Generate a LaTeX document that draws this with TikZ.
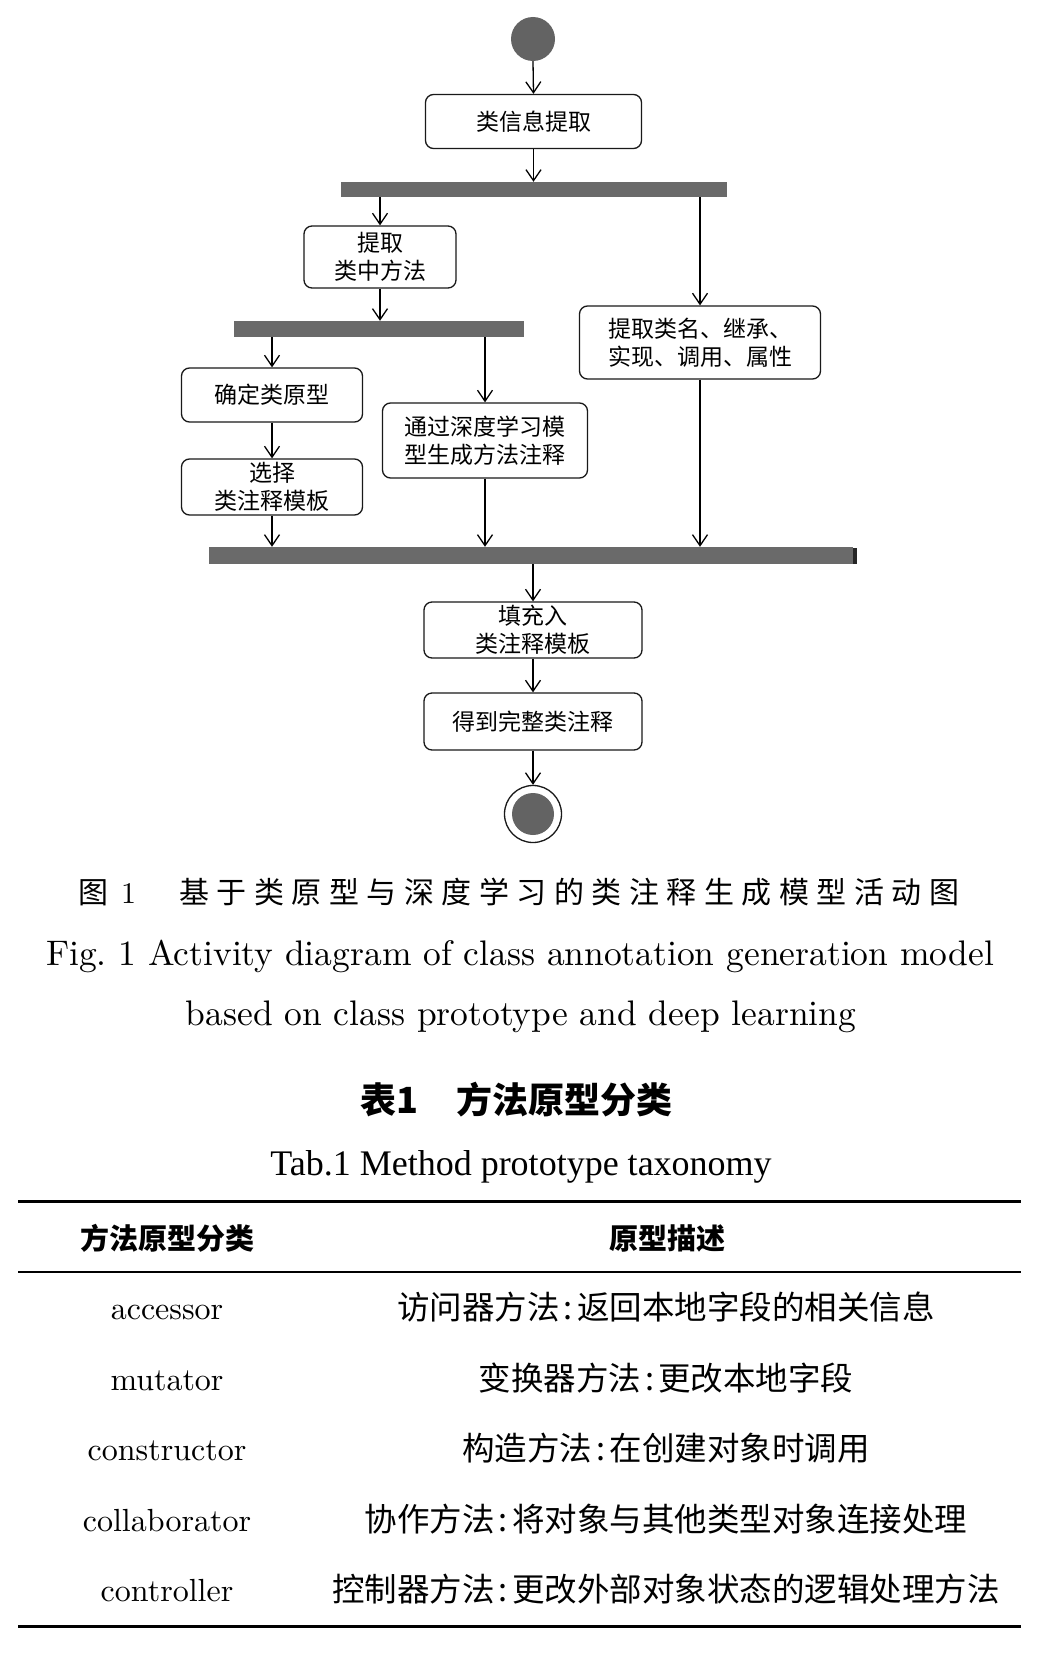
\documentclass[tikz,border=0pt]{standalone}
\usepackage{fontspec}
\usetikzlibrary{arrows.meta}
\setmainfont{lmroman10-regular.otf}[BoldFont=lmroman10-bold.otf,ItalicFont=lmroman10-italic.otf]
\newfontfamily\cjk{Noto Sans CJK SC}
\newfontfamily\cjkcap{Noto Sans CJK SC}[LetterSpace=25]
\newfontfamily\tnr{Liberation Serif}
\definecolor{barc}{HTML}{6A6A6A}
\definecolor{dotc}{HTML}{636363}
\newcommand\boxfont{\cjk\fontsize{23}{28}\selectfont\lineskiplimit=-100pt\relax}
\newcommand\rowcolon{\hspace{4pt}:\hspace{4pt}}
\begin{document}
\begin{tikzpicture}[x=1pt,y=-1pt,
  act/.style={draw=black!90,line width=1.3pt,rounded corners=8pt,fill=white,inner sep=0pt,align=center,font=\boxfont},
  forkbar/.style={rectangle,fill=barc,draw=none,inner sep=0pt},
  flow/.style={-{Straight Barb[length=11pt,width=15pt]},line width=1.3pt},
  entxt/.style={anchor=base,font=\fontsize{35.5}{40}\selectfont},
  rowen/.style={anchor=base,font=\fontsize{32}{36}\selectfont},
  rowcn/.style={anchor=base,font=\cjk\fontsize{32.5}{36}\selectfont},
  headcn/.style={anchor=base,font=\cjk\bfseries\fontsize{29}{32}\selectfont},
  rulethick/.style={line width=3pt},
  rulethin/.style={line width=1.8pt}]
\fill[white] (0,0) rectangle (1045,1654);
\useasboundingbox (0,0) rectangle (1045,1654);

% start / end
\node[circle,fill=dotc,minimum size=44pt,inner sep=0pt] (st) at (533,39) {};
\node[circle,draw=black!90,line width=1.3pt,fill=white,minimum size=57pt,inner sep=0pt] (en) at (533,814) {};
\node[circle,fill=dotc,minimum size=42pt,inner sep=0pt] (endot) at (en.center) {};

% fork / join bars
\node[forkbar,minimum width=386pt,minimum height=15pt] (f1) at (534,189.5) {};
\node[forkbar,minimum width=290pt,minimum height=16pt] (f2) at (379,329) {};
\node[forkbar,minimum width=644pt,minimum height=17pt] (f3) at (531,555.5) {};
\fill[black!85] (853,548) rectangle (857,564);

% activities
\node[act,minimum width=216pt,minimum height=54pt] (b1) at (533.5,121.5) {类信息提取};
\node[act,minimum width=152pt,minimum height=62pt] (b2) at (380,257) {提取\\类中方法};
\node[act,minimum width=241pt,minimum height=73pt] (b3) at (700,342.5) {提取类名、继承、\\实现、调用、属性};
\node[act,minimum width=181pt,minimum height=54pt] (b4) at (272,395) {确定类原型};
\node[act,minimum width=205pt,minimum height=75pt] (b5) at (485,440.5) {通过深度学习模\\型生成方法注释};
\node[act,minimum width=181pt,minimum height=56pt] (b6) at (272,487) {选择\\类注释模板};
\node[act,minimum width=218pt,minimum height=56pt] (b7) at (533,630) {填充入\\类注释模板};
\node[act,minimum width=218pt,minimum height=57pt] (b8) at (533,721.5) {得到完整类注释};

% flows
\draw[flow] (st.south) -- (b1.north);
\draw[flow] (b1.south) -- (b1.south |- f1.north);
\draw[flow] (f1.south -| b2.north) -- (b2.north);
\draw[flow] (f1.south -| b3.north) -- (b3.north);
\draw[flow] (b2.south) -- (b2.south |- f2.north);
\draw[flow] (f2.south -| b4.north) -- (b4.north);
\draw[flow] (f2.south -| b5.north) -- (b5.north);
\draw[flow] (b4.south) -- (b6.north);
\draw[flow] (b6.south) -- (b6.south |- f3.north);
\draw[flow] (b5.south) -- (b5.south |- f3.north);
\draw[flow] (b3.south) -- (b3.south |- f3.north);
\draw[flow] (f3.south -| b7.north) -- (b7.north);
\draw[flow] (b7.south) -- (b8.north);
\draw[flow] (b8.south) -- (en.north);

% figure caption
\node[anchor=base west,inner sep=0pt,font=\cjk\fontsize{30}{30}\selectfont] (cap1a) at (78,903.5) {图\hspace{13pt}{\rmfamily 1}};
\node[anchor=base west,inner sep=0pt,font=\cjkcap\fontsize{30}{30}\selectfont] (cap1b) at (179,903.5) {基于类原型与深度学习的类注释生成模型活动图};
\node[entxt] (cap2) at (520,965) {Fig.\ 1 Activity diagram of class annotation generation model};
\node[entxt] (cap3) at (521,1025) {based on class prototype and deep learning};

% table caption
\node[anchor=base west,inner sep=0pt,font=\cjk\bfseries\fontsize{36}{36}\selectfont] (tab1a) at (360,1113.5) {表1};
\node[anchor=base west,inner sep=0pt,font=\cjk\bfseries\fontsize{36}{36}\selectfont] (tab1b) at (456,1113.5) {方法原型分类};
\node[anchor=base,font=\tnr\fontsize{36}{36}\selectfont] (tab1en) at (521,1175) {Tab.1 Method prototype taxonomy};

% table
\draw[rulethick] (18,1201.5) -- (1021,1201.5);
\draw[rulethin] (18,1272) -- (1021,1272);
\draw[rulethick] (18,1626.5) -- (1021,1626.5);
\node[headcn] (h1) at (167,1249) {方法原型分类};
\node[headcn] (h2) at (667,1249) {原型描述};

\node[rowen] (r1a) at (167,1319.5) {accessor};
\node[rowcn] (r1b) at (666,1319.5) {访问器方法\rowcolon 返回本地字段的相关信息};
\node[rowen] (r2a) at (167,1390) {mutator};
\node[rowcn] (r2b) at (666,1390) {变换器方法\rowcolon 更改本地字段};
\node[rowen] (r3a) at (167,1460.5) {constructor};
\node[rowcn] (r3b) at (666,1460.5) {构造方法\rowcolon 在创建对象时调用};
\node[rowen] (r4a) at (167,1531) {collaborator};
\node[rowcn] (r4b) at (666,1531) {协作方法\rowcolon 将对象与其他类型对象连接处理};
\node[rowen] (r5a) at (167,1601.5) {controller};
\node[rowcn] (r5b) at (666,1601.5) {控制器方法\rowcolon 更改外部对象状态的逻辑处理方法};
\end{tikzpicture}
\end{document}
